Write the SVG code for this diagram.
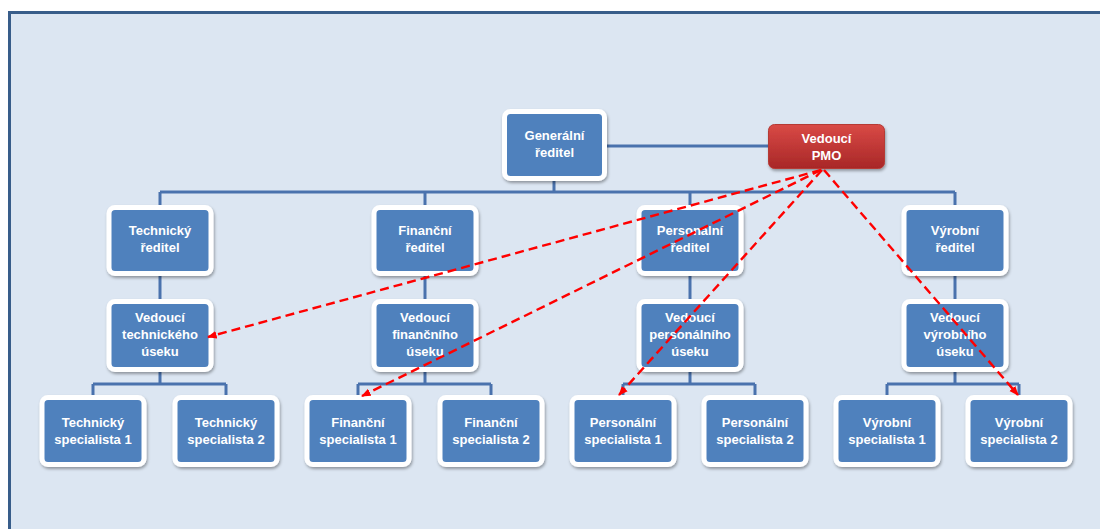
<svg xmlns="http://www.w3.org/2000/svg" width="1100" height="529" viewBox="0 0 1100 529">
  <defs>
    <filter id="shadow" x="-10%" y="-10%" width="130%" height="140%">
      <feDropShadow dx="1" dy="2" stdDeviation="1.5" flood-color="#000" flood-opacity="0.35"/>
    </filter>
    <linearGradient id="redFill" x1="0" y1="0" x2="0" y2="1">
      <stop offset="0" stop-color="#d94a46"/>
      <stop offset="1" stop-color="#a82727"/>
    </linearGradient>
    <marker id="arrowRed" viewBox="0 0 10 10" refX="9" refY="5" markerWidth="4" markerHeight="4" orient="auto">
      <path d="M0,1 L10,5 L0,9 z" fill="#ff0000"/>
    </marker>
    <style>
      .box { fill: #4f81bd; stroke: #ffffff; stroke-width: 5; filter: url(#shadow); }
      .pmo { fill: url(#redFill); stroke: #b53a36; stroke-width: 1; filter: url(#shadow); }
      .lbl { font-family: "Liberation Sans", Arial, sans-serif; font-weight: bold; font-size: 13px; fill: #ffffff; text-anchor: middle; }
      .link { fill: none; stroke: #4a72ad; stroke-width: 3; }
      .dash { fill: none; stroke: #ff0000; stroke-width: 2.4; stroke-dasharray: 9 5; marker-end: url(#arrowRed); }
    </style>
  </defs>

  <!-- page background and frame -->
  <rect x="0" y="0" width="1100" height="529" fill="#ffffff"/>
  <rect x="9.5" y="12.5" width="1200" height="600" fill="#dce6f2" stroke="#385d8a" stroke-width="3"/>

  <!-- hierarchy connectors -->
  <g id="connectors">
    <path class="link" d="M604,146 H770"/>
    <path class="link" d="M554,181 V192"/>
    <path class="link" d="M160,192 H955"/>
    <path class="link" d="M160,192 V206 M425,192 V206 M690,192 V206 M955,192 V206"/>
    <path class="link" d="M160,276 V300 M425,276 V300 M690,276 V300 M955,276 V300"/>
    <path class="link" d="M160,372 V384 M93,384 H226 M93,384 V396 M226,384 V396"/>
    <path class="link" d="M425,372 V384 M358,384 H491 M358,384 V396 M491,384 V396"/>
    <path class="link" d="M690,372 V384 M623,384 H755 M623,384 V396 M755,384 V396"/>
    <path class="link" d="M955,372 V384 M887,384 H1019 M887,384 V396 M1019,384 V396"/>
  </g>

  <!-- top level -->
  <g id="generalni-reditel">
    <rect class="box" x="504.5" y="111.5" width="100" height="67" rx="6"/>
    <text class="lbl" x="554.5" y="140">Generální</text>
    <text class="lbl" x="554.5" y="157">ředitel</text>
  </g>
  <g id="vedouci-pmo">
    <rect class="pmo" x="768.5" y="124.5" width="116" height="44" rx="6"/>
    <text class="lbl" x="826.5" y="143">Vedoucí</text>
    <text class="lbl" x="826.5" y="160">PMO</text>
  </g>

  <!-- directors -->
  <g id="technicky-reditel">
    <rect class="box" x="109" y="207.5" width="102" height="66" rx="6"/>
    <text class="lbl" x="160" y="235">Technický</text>
    <text class="lbl" x="160" y="252">ředitel</text>
  </g>
  <g id="financni-reditel">
    <rect class="box" x="374" y="207.5" width="102" height="66" rx="6"/>
    <text class="lbl" x="425" y="235">Finanční</text>
    <text class="lbl" x="425" y="252">ředitel</text>
  </g>
  <g id="personalni-reditel">
    <rect class="box" x="639" y="207.5" width="102" height="66" rx="6"/>
    <text class="lbl" x="690" y="235">Personální</text>
    <text class="lbl" x="690" y="252">ředitel</text>
  </g>
  <g id="vyrobni-reditel">
    <rect class="box" x="904" y="207.5" width="102" height="66" rx="6"/>
    <text class="lbl" x="955" y="235">Výrobní</text>
    <text class="lbl" x="955" y="252">ředitel</text>
  </g>

  <!-- section heads -->
  <g id="vedouci-technickeho-useku">
    <rect class="box" x="109" y="301.5" width="102" height="68" rx="6"/>
    <text class="lbl" x="160" y="322">Vedoucí</text>
    <text class="lbl" x="160" y="339">technického</text>
    <text class="lbl" x="160" y="356">úseku</text>
  </g>
  <g id="vedouci-financniho-useku">
    <rect class="box" x="374" y="301.5" width="102" height="68" rx="6"/>
    <text class="lbl" x="425" y="322">Vedoucí</text>
    <text class="lbl" x="425" y="339">finančního</text>
    <text class="lbl" x="425" y="356">úseku</text>
  </g>
  <g id="vedouci-personalniho-useku">
    <rect class="box" x="639" y="301.5" width="102" height="68" rx="6"/>
    <text class="lbl" x="690" y="322">Vedoucí</text>
    <text class="lbl" x="690" y="339">personálního</text>
    <text class="lbl" x="690" y="356">úseku</text>
  </g>
  <g id="vedouci-vyrobniho-useku">
    <rect class="box" x="904" y="301.5" width="102" height="68" rx="6"/>
    <text class="lbl" x="955" y="322">Vedoucí</text>
    <text class="lbl" x="955" y="339">výrobního</text>
    <text class="lbl" x="955" y="356">úseku</text>
  </g>

  <!-- specialists -->
  <g id="technicky-specialista-1">
    <rect class="box" x="42" y="397.5" width="102" height="67" rx="6"/>
    <text class="lbl" x="93" y="427">Technický</text>
    <text class="lbl" x="93" y="444">specialista 1</text>
  </g>
  <g id="technicky-specialista-2">
    <rect class="box" x="175" y="397.5" width="102" height="67" rx="6"/>
    <text class="lbl" x="226" y="427">Technický</text>
    <text class="lbl" x="226" y="444">specialista 2</text>
  </g>
  <g id="financni-specialista-1">
    <rect class="box" x="307" y="397.5" width="102" height="67" rx="6"/>
    <text class="lbl" x="358" y="427">Finanční</text>
    <text class="lbl" x="358" y="444">specialista 1</text>
  </g>
  <g id="financni-specialista-2">
    <rect class="box" x="440" y="397.5" width="102" height="67" rx="6"/>
    <text class="lbl" x="491" y="427">Finanční</text>
    <text class="lbl" x="491" y="444">specialista 2</text>
  </g>
  <g id="personalni-specialista-1">
    <rect class="box" x="572" y="397.5" width="102" height="67" rx="6"/>
    <text class="lbl" x="623" y="427">Personální</text>
    <text class="lbl" x="623" y="444">specialista 1</text>
  </g>
  <g id="personalni-specialista-2">
    <rect class="box" x="704" y="397.5" width="102" height="67" rx="6"/>
    <text class="lbl" x="755" y="427">Personální</text>
    <text class="lbl" x="755" y="444">specialista 2</text>
  </g>
  <g id="vyrobni-specialista-1">
    <rect class="box" x="836" y="397.5" width="102" height="67" rx="6"/>
    <text class="lbl" x="887" y="427">Výrobní</text>
    <text class="lbl" x="887" y="444">specialista 1</text>
  </g>
  <g id="vyrobni-specialista-2">
    <rect class="box" x="968" y="397.5" width="102" height="67" rx="6"/>
    <text class="lbl" x="1019" y="427">Výrobní</text>
    <text class="lbl" x="1019" y="444">specialista 2</text>
  </g>

  <!-- PMO relations -->
  <g id="pmo-links">
    <path class="dash" d="M821,170 L208,337"/>
    <path class="dash" d="M821,170 L362,396"/>
    <path class="dash" d="M822,170 L619,395"/>
    <path class="dash" d="M824,170 L1018,395"/>
  </g>
</svg>
